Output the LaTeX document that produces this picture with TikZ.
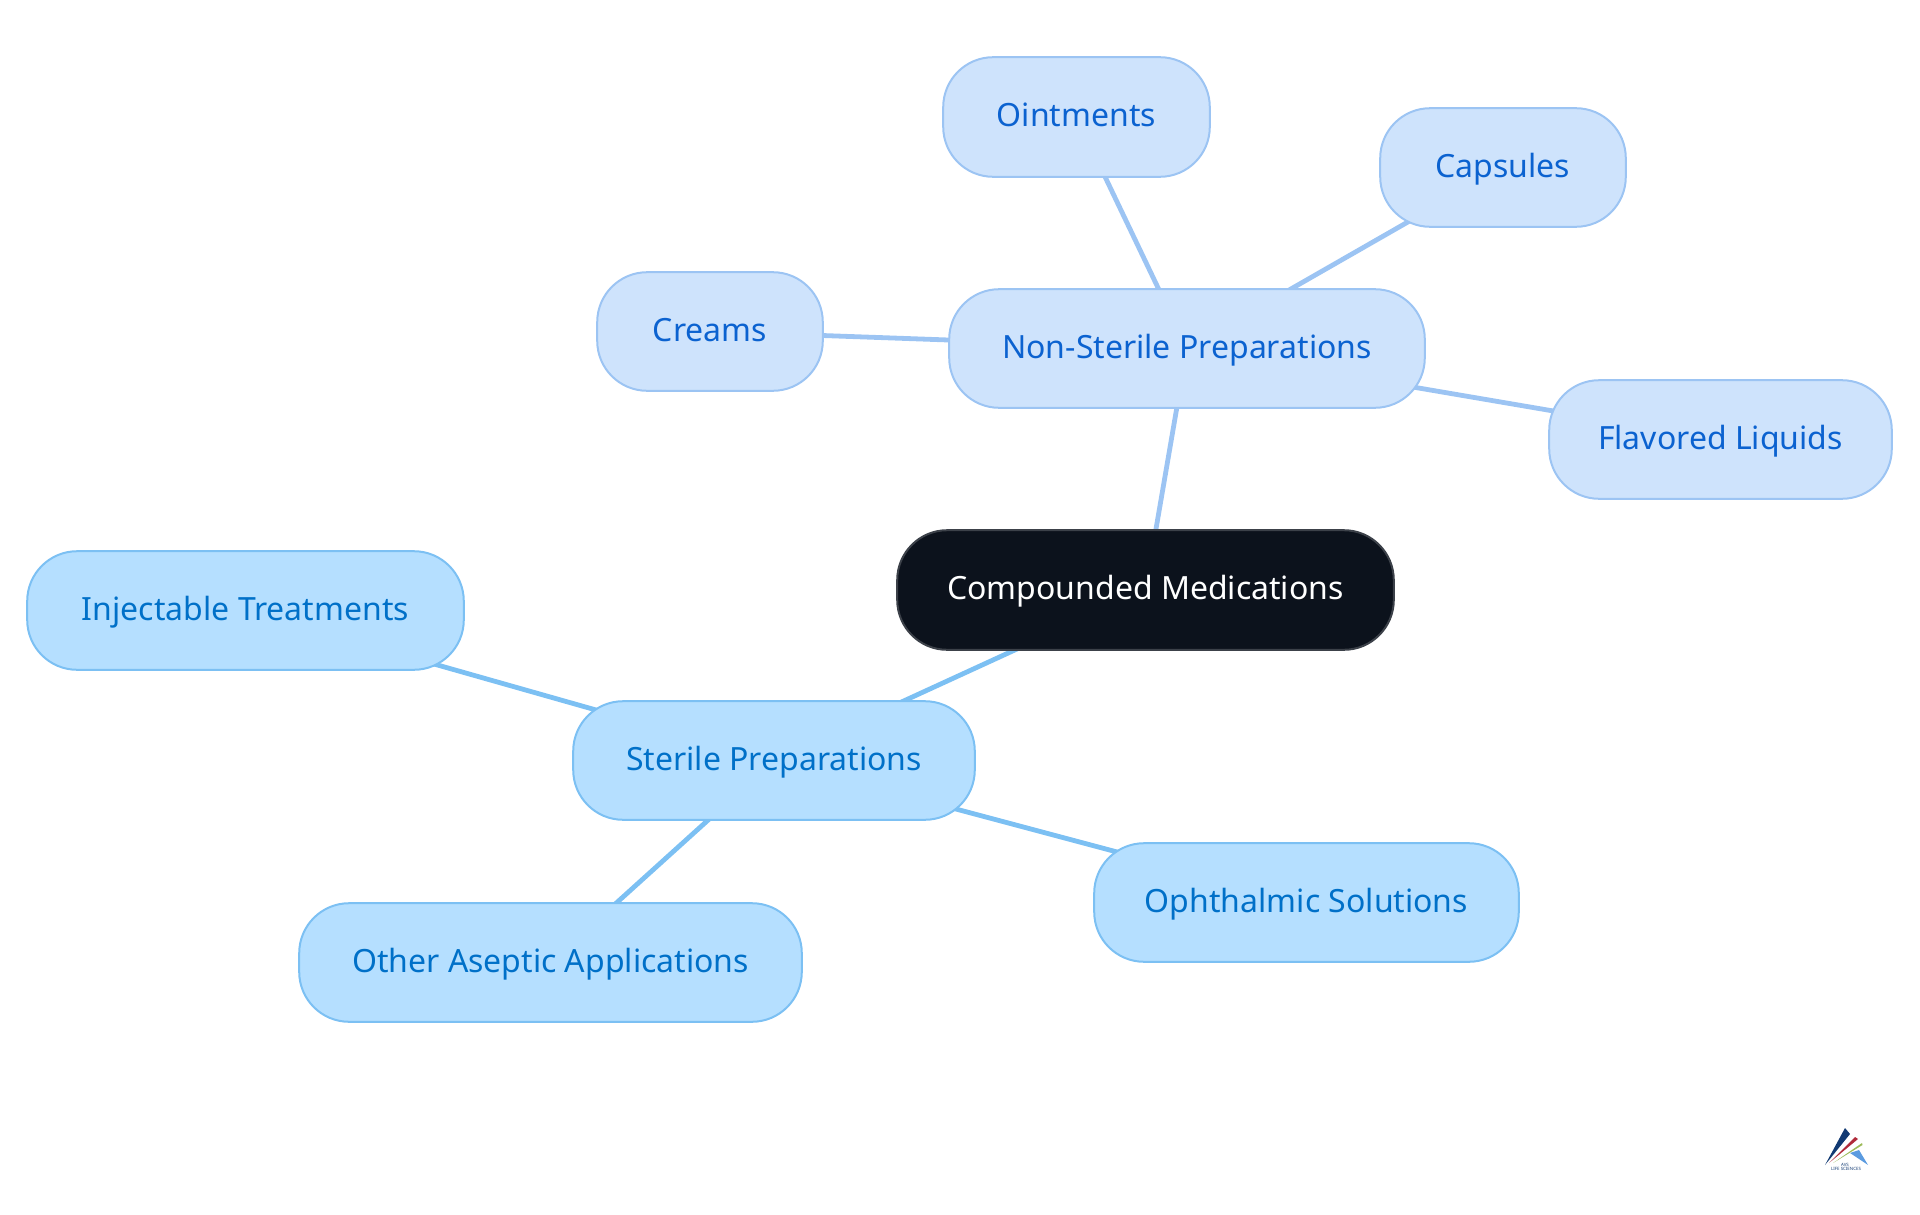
\documentclass[tikz,border=0pt]{standalone}
\usepackage{fontspec}
\setmainfont{Noto Sans}
\usetikzlibrary{backgrounds}
\definecolor{rootfill}{HTML}{0C121C}
\definecolor{rootline}{HTML}{3C4149}
\definecolor{nsfill}{HTML}{CEE3FC}
\definecolor{nsline}{HTML}{9CC4F3}
\definecolor{nstext}{HTML}{0B62D0}
\definecolor{stfill}{HTML}{B5DFFF}
\definecolor{stline}{HTML}{7CC0F3}
\definecolor{sttext}{HTML}{0070C8}
\definecolor{logoa}{HTML}{123A73}
\definecolor{logob}{HTML}{B02A3A}
\definecolor{logoc}{HTML}{9DBB5A}
\definecolor{logod}{HTML}{5B9BE0}
\tikzset{x=1pt,y=-1pt,
  box/.style={rounded corners=50pt,line width=2pt,inner sep=0pt,align=center,text height=25pt,text depth=6pt,font=\fontsize{32}{38}\selectfont},
  nsbox/.style={box,draw=nsline,fill=nsfill,text=nstext},
  stbox/.style={box,draw=stline,fill=stfill,text=sttext},
  rootbox/.style={box,draw=rootline,fill=rootfill,text=white},
  nsedge/.style={draw=nsline,line width=4.8pt},
  stedge/.style={draw=stline,line width=4.8pt},
  logotext/.style={font=\fontsize{4.4}{6}\selectfont\bfseries,text=logoa,inner sep=0pt}}
\newcommand{\bx}[7]{\node[#2,minimum width=#5pt-#3pt-0.4pt,minimum height=#6pt-#4pt-0.4pt] (#1) at ({(#3+#5)/2},{(#4+#6)/2}) {#7};}
\begin{document}
\begin{tikzpicture}
\useasboundingbox (0,0) rectangle (1920,1215);
\bx{root}{rootbox}{897}{530}{1394}{650}{Compounded Medications}
\bx{ns}{nsbox}{949}{289}{1425}{408}{Non-Sterile Preparations}
\bx{oint}{nsbox}{943}{57}{1210}{177}{Ointments}
\bx{caps}{nsbox}{1380}{108}{1626}{227}{Capsules}
\bx{crm}{nsbox}{597}{272}{823}{391}{Creams}
\bx{flav}{nsbox}{1549}{380}{1892}{499}{Flavored Liquids}
\bx{st}{stbox}{573}{701}{975}{820}{Sterile Preparations}
\bx{inj}{stbox}{27}{551}{464}{670}{Injectable Treatments}
\bx{oph}{stbox}{1094}{843}{1519}{962}{Ophthalmic Solutions}
\bx{oth}{stbox}{299}{903}{802}{1022}{Other Aseptic Applications}
\begin{scope}[on background layer]
\draw[nsedge] (root.center) -- (ns.center);
\draw[nsedge] (ns.center) -- (oint.center);
\draw[nsedge] (ns.center) -- (caps.center);
\draw[nsedge] (ns.center) -- (crm.center);
\draw[nsedge] (ns.center) -- (flav.center);
\draw[stedge] (root.center) -- (st.center);
\draw[stedge] (st.center) -- (inj.center);
\draw[stedge] (st.center) -- (oph.center);
\draw[stedge] (st.center) -- (oth.center);
\end{scope}
\fill[logoa] (1825,1165) -- (1845,1128) -- (1850,1134) -- cycle;
\fill[logob] (1829,1163) -- (1855,1137) -- (1858,1139) -- cycle;
\fill[logoc] (1833,1163) -- (1862,1143) -- (1862.5,1145) -- cycle;
\fill[logod] (1850,1153) -- (1859,1150) -- (1868,1165) -- cycle;
\node[logotext] (logoa) at (1845,1164.5) {AVS};
\node[logotext] (logob) at (1846,1169) {LIFE SCIENCES};
\end{tikzpicture}
\end{document}
